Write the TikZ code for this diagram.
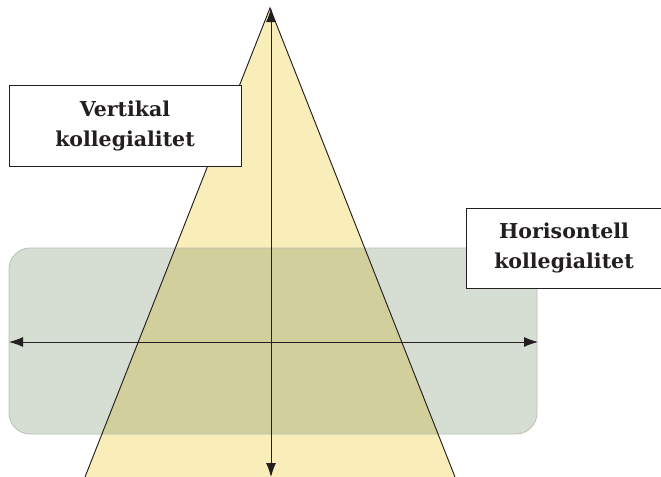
\documentclass[tikz,border=0pt]{standalone}
\usepackage{fontspec}
\setmainfont{DejaVu Serif}
\usepackage{tikz}
\usetikzlibrary{positioning, arrows.meta}
\definecolor{paleyellow}{HTML}{F9EEB9}
\definecolor{greyfill}{HTML}{D6DED4}
\definecolor{olivefill}{HTML}{D1CF9C}
\definecolor{rimgrey}{HTML}{B9BFB6}
\definecolor{inkgrey}{HTML}{231F20}
\tikzstyle{line} = [draw=inkgrey, -{Latex[length=4.2mm,width=3mm]}, line width=0.8pt]
\tikzstyle{label} = [rectangle, draw=inkgrey, fill=white, line width=0.7pt, text=inkgrey,
    text width=6.1cm, align=center, font=\bfseries\fontsize{17.5}{26}\selectfont]

\begin{document}
\begin{tikzpicture}[x=0.03cm, y=-0.03cm]
      \useasboundingbox (0,0) rectangle (661,477);
      % Pyramid and band
      \coordinate (apex) at (270,8);
      \coordinate (baseL) at (85,477);
      \coordinate (baseR) at (455,477);
      \fill [paleyellow] (apex) -- (baseL) -- (baseR) -- cycle;
      \fill [greyfill, rounded corners=18] (9,248) rectangle (537,434);
      \begin{scope}
        \clip (apex) -- (baseL) -- (baseR) -- cycle;
        \fill [olivefill, rounded corners=18] (9,248) rectangle (537,434);
      \end{scope}
      \draw [rimgrey, line width=0.7pt, rounded corners=18] (9,248) rectangle (537,434);
      \draw [inkgrey, line width=0.8pt] (baseL) -- (apex) -- (baseR);
      % Axes
      \coordinate (top) at (271,8);
      \coordinate (bottom) at (271,477);
      \coordinate (left) at (9,342);
      \coordinate (right) at (538,342);
      \coordinate (mid) at (271,342);
      \path [line] (mid) -- (top);
      \path [line] (mid) -- (bottom);
      \path [line] (mid) -- (left);
      \path [line] (mid) -- (right);
      % Labels
      \node [label, minimum width=232*0.03cm, minimum height=81*0.03cm] (vert) at (125,126) {Vertikal\\kollegialitet};
      \node [label, text width=5.6cm, minimum width=196*0.03cm, minimum height=80*0.03cm] (hori) at (564,248) {Horisontell\\kollegialitet};
  \end{tikzpicture}
\end{document}
